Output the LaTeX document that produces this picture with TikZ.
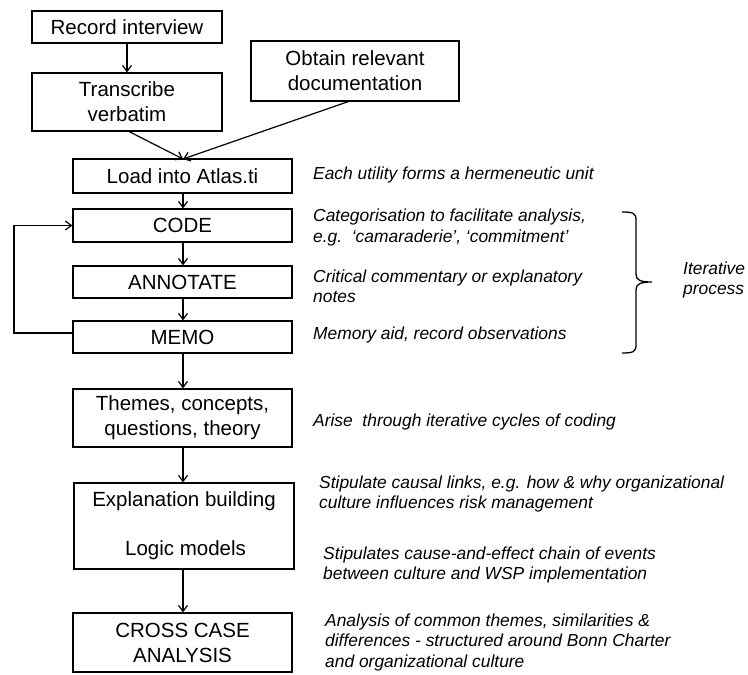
\documentclass[tikz,border=0pt]{standalone}
\usepackage{fontspec}
\setmainfont{Liberation Sans}
\usetikzlibrary{arrows.meta}
\begin{document}
\begin{tikzpicture}[x=1pt,y=-1pt,
  box/.style={draw=black,line width=1.3pt,rectangle,inner sep=0pt,align=center,
    font=\fontsize{20.5}{25}\selectfont},
  note/.style={anchor=west,inner sep=0pt,align=left,
    font=\fontsize{17.4}{20.5}\selectfont\itshape},
  arr/.style={line width=1.2pt,-{Straight Barb[length=6pt,width=9pt,line width=1.2pt]}},
  conn/.style={line width=1.2pt}]
\useasboundingbox (0,0) rectangle (748,675);
% boxes
\node[box,minimum width=190pt,minimum height=32pt] (rec) at (127,27) {Record interview};
\node[box,minimum width=190pt,minimum height=58pt] (tra) at (127,102) {Transcribe\\verbatim};
\node[box,minimum width=208pt,minimum height=60pt] (obt) at (355,71) {Obtain relevant\\documentation};
\node[box,minimum width=219pt,minimum height=34pt] (load) at (182.5,176) {Load into Atlas.ti};
\node[box,minimum width=219pt,minimum height=33pt] (code) at (182.5,225.5) {CODE};
\node[box,minimum width=219pt,minimum height=32pt] (ann) at (182.5,282) {ANNOTATE};
\node[box,minimum width=219pt,minimum height=32pt] (memo) at (182.5,337) {MEMO};
\node[box,minimum width=219pt,minimum height=58pt] (thm) at (182.5,418) {Themes, concepts,\\questions, theory};
\node[box,minimum width=220pt,minimum height=86pt] (expl) at (184,526) {Explanation building\\[24pt]\hspace*{3pt}Logic models};
\node[box,minimum width=219pt,minimum height=59pt] (cross) at (182.5,642.5) {CROSS CASE\\ANALYSIS};
% coordinates
\coordinate (loadin) at (183,159);
\coordinate (trout) at (128,131);
\coordinate (obout) at (350,101);
\coordinate (loop) at (14,333);
% connectors
\draw[arr] (rec) -- (tra);
\draw[arr] (trout) -- (loadin);
\draw[arr] (obout) -- (loadin);
\draw[arr] (load.south -| loadin) -- (code.north -| loadin);
\draw[arr] (code.south -| loadin) -- (ann.north -| loadin);
\draw[arr] (ann.south -| loadin) -- (memo.north -| loadin);
\draw[arr] (memo.south -| loadin) -- (thm.north -| loadin);
\draw[arr] (thm.south -| loadin) -- (expl.north -| loadin);
\draw[arr] (expl.south -| loadin) -- (cross.north -| loadin);
\draw[arr] (memo.west |- loop) -- (loop) |- (code.west);
% notes
\node[note] (n1) at (313,175) {Each utility forms a hermeneutic unit};
\node[note] (n2) at (313,227.5) {Categorisation to facilitate analysis,\\e.g.\ \ ‘camaraderie’, ‘commitment’};
\node[note] (n3) at (313,286.5) {Critical commentary or explanatory\\notes};
\node[note] (n4) at (313,335) {Memory aid, record observations};
\node[note] (n5) at (313,422) {Arise\ \ through iterative cycles of coding};
\node[note] (n6) at (319,494) {Stipulate causal links, e.g. how \& why organizational\\culture influences risk management};
\node[note] (n7) at (323,565) {Stipulates cause-and-effect chain of events\\between culture and WSP implementation};
\node[note] (n8) at (325,642) {Analysis of common themes, similarities \&\\differences - structured around Bonn Charter\\and organizational culture};
\node[note] (n9) at (683,280) {Iterative\\process};
% brace
\draw[line width=1.3pt] (622,212) .. controls (633,212) and (636,213) .. (636,220) -- (636,274)
  .. controls (636,280) and (640,282) .. (652,282)
  .. controls (640,282) and (636,284) .. (636,290) -- (636,345)
  .. controls (636,352) and (633,353) .. (622,353);
\end{tikzpicture}
\end{document}
